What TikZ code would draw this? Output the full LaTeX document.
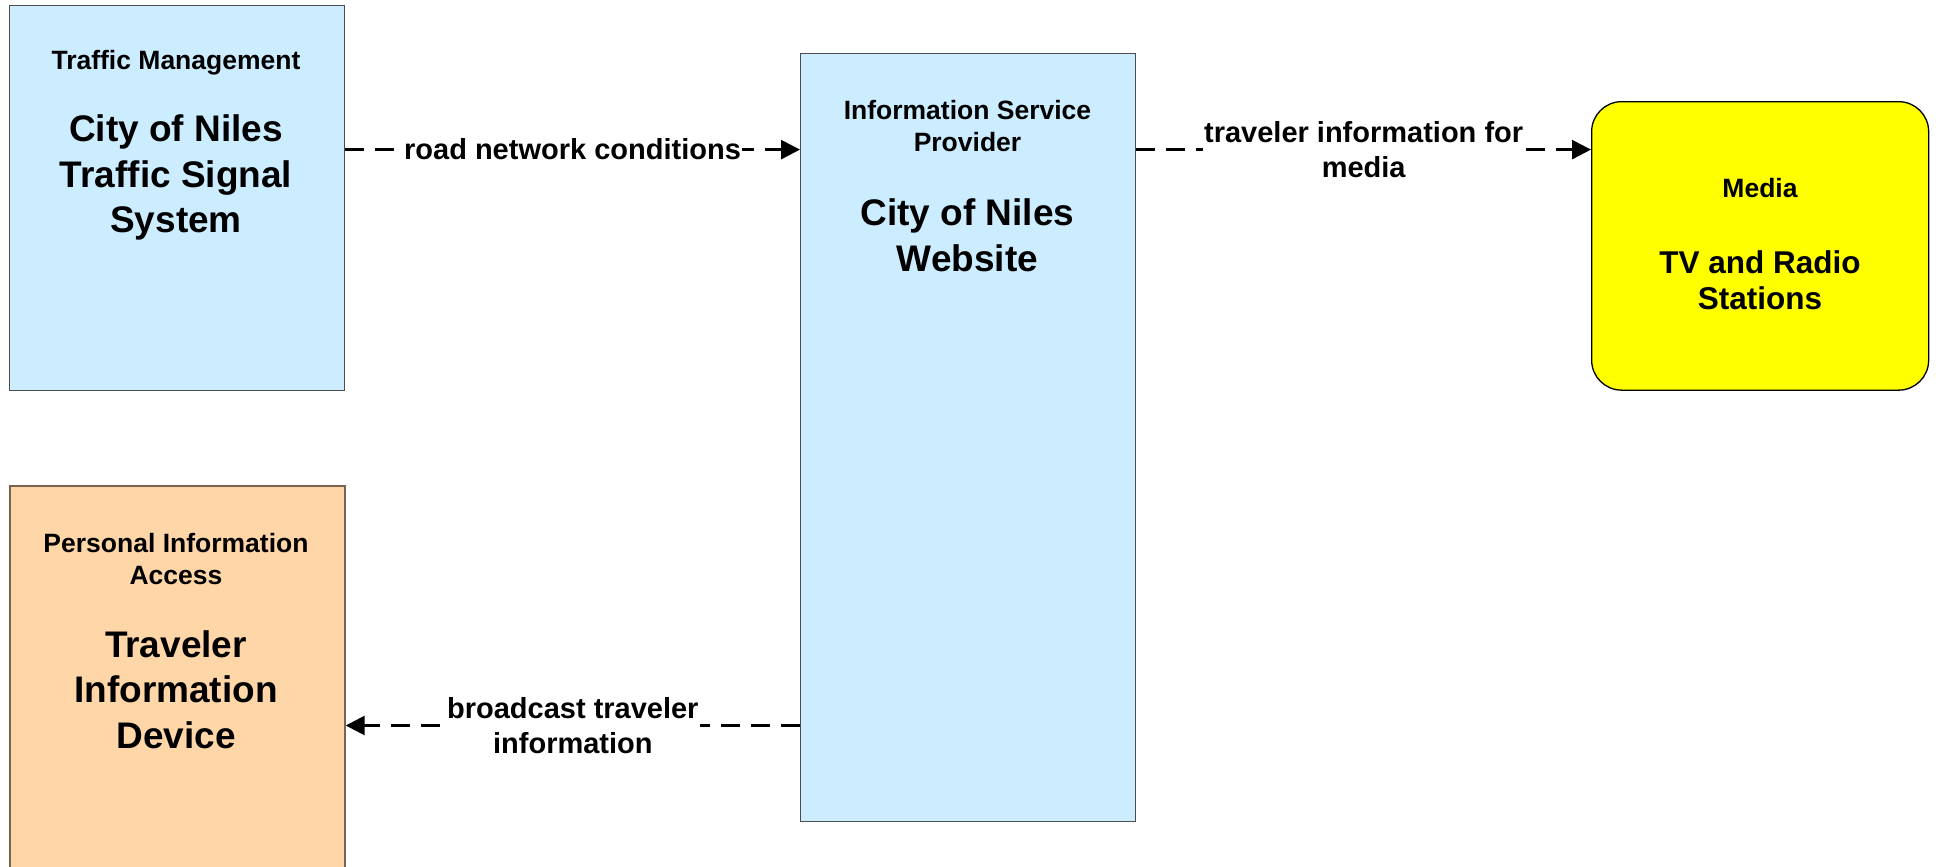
\documentclass[tikz,border=0pt]{standalone}
\usepackage{fontspec}
\setmainfont{Liberation Sans}
\usetikzlibrary{arrows.meta}
\definecolor{blau}{HTML}{CCECFF}
\definecolor{gelb}{HTML}{FFFF00}
\definecolor{pfirsich}{HTML}{FFD6A8}
\definecolor{braun}{HTML}{7A6450}

\begin{document}
\begin{tikzpicture}[x=1pt,y=-1pt,>={Triangle[length=19pt,width=19pt]},
  box/.style={draw=black!70,line width=1.3pt,inner sep=0pt,anchor=north west},
  klein/.style={font=\fontsize{26.5}{32}\selectfont\bfseries,align=center},
  gross/.style={font=\fontsize{37}{45.5}\selectfont\bfseries,align=center},
  fluss/.style={->,line width=2.6pt,dash pattern=on 19pt off 11pt},
  etikett/.style={fill=white,inner sep=1.5pt,font=\fontsize{29}{35.5}\selectfont\bfseries,align=center}]

\useasboundingbox (0,0) rectangle (1939,867);
\clip (0,0) rectangle (1939,867);

%Kaesten
\node[box,fill=blau,minimum width=335pt,minimum height=384.5pt] (tm) at (8.7,5) {};
\node[box,fill=blau,minimum width=335pt,minimum height=768pt] (isp) at (800,53) {};
\node[box,draw=black,fill=gelb,rounded corners=30pt,minimum width=337pt,minimum height=288.5pt] (media) at (1591,101) {};
\node[box,draw=braun,line width=2pt,fill=pfirsich,minimum width=335pt,minimum height=450pt] (pia) at (8.7,485) {};

%Beschriftungen
\node[klein] (tmtyp) at (176,63) {Traffic Management};
\node[gross] (tmname) at (176,177.5) {City of Niles\\Traffic Signal\\System};

\node[klein] (isptyp) at (967.5,126) {Information Service\\Provider};
\node[gross] (ispname) at (967.5,235.5) {City of Niles\\Website};

\node[klein] (mediatyp) at (1760,188) {Media};
\node[gross,font=\fontsize{31.5}{36}\selectfont\bfseries] (medianame) at (1760,280) {TV and Radio\\Stations};

\node[klein] (piatyp) at (176,559) {Personal Information\\Access};
\node[gross] (pianame) at (176,689.5) {Traveler\\Information\\Device};

%Pfeile
\draw[fluss] (tm.east |- 0,149.6) -- node[etikett] (rnc) {road network conditions} (isp.west |- 0,149.6);
\draw[fluss] (isp.east |- 0,149.6) -- node[etikett] (tim) {traveler information for\\media} (media.west |- 0,149.6);
\draw[fluss] (isp.west |- 0,725.5) -- node[etikett] (bti) {broadcast traveler\\information} (pia.east |- 0,725.5);

\end{tikzpicture}
\end{document}
